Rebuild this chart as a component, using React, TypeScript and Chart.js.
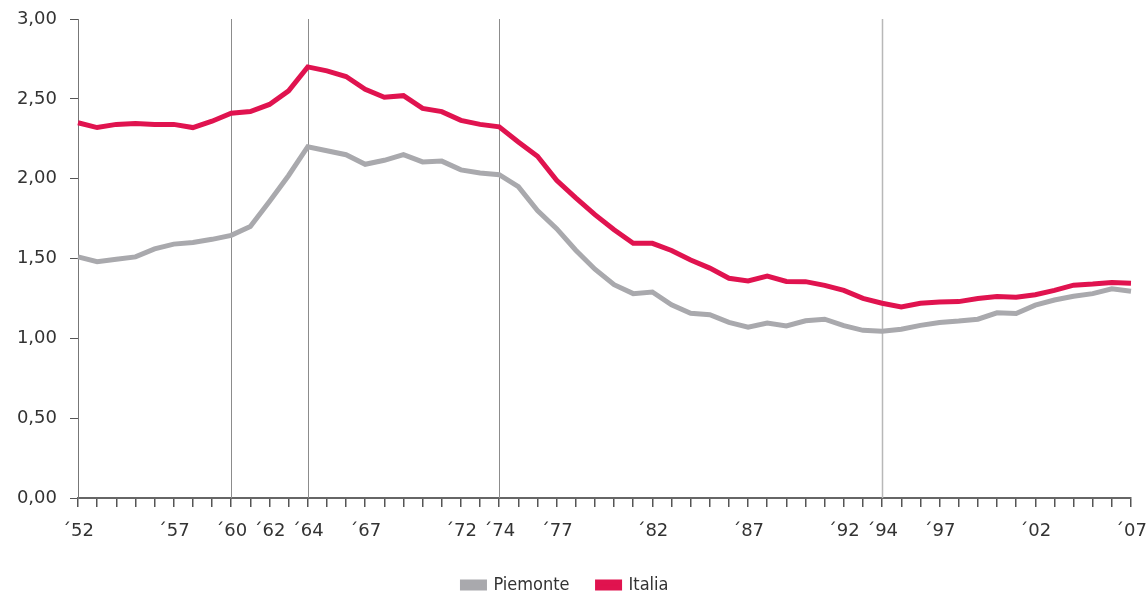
import React, { useEffect, useRef } from "react";
import { Chart, registerables } from "chart.js";

Chart.register(...registerables);

const years = [
  1952, 1953, 1954, 1955, 1956, 1957, 1958, 1959, 1960, 1961,
  1962, 1963, 1964, 1965, 1966, 1967, 1968, 1969, 1970, 1971,
  1972, 1973, 1974, 1975, 1976, 1977, 1978, 1979, 1980, 1981,
  1982, 1983, 1984, 1985, 1986, 1987, 1988, 1989, 1990, 1991,
  1992, 1993, 1994, 1995, 1996, 1997, 1998, 1999, 2000, 2001,
  2002, 2003, 2004, 2005, 2006, 2007,
];

const labeledYears = [1952, 1957, 1960, 1962, 1964, 1967, 1972, 1974, 1977, 1982, 1987, 1992, 1994, 1997, 2002, 2007];
const xTickLabels = ["´52", "´57", "´60", "´62", "´64", "´67", "´72", "´74", "´77", "´82", "´87", "´92", "´94", "´97", "´02", "´07"];

const markerYears = [1960, 1964, 1974, 1994];

const piemonte = [
  1.51, 1.48, 1.495, 1.51, 1.56, 1.59, 1.6, 1.62, 1.645, 1.7,
  1.857, 2.02, 2.2, 2.175, 2.15, 2.09, 2.115, 2.15, 2.105, 2.11,
  2.055, 2.035, 2.025, 1.95, 1.8, 1.687, 1.552, 1.433, 1.336, 1.28,
  1.29, 1.21, 1.157, 1.148, 1.1, 1.07, 1.096, 1.078, 1.11, 1.12,
  1.08, 1.05, 1.045, 1.057, 1.081, 1.099, 1.108, 1.12, 1.16, 1.155,
  1.208, 1.24, 1.263, 1.28, 1.31, 1.295,
];

const italia = [
  2.35, 2.32, 2.34, 2.345, 2.34, 2.34, 2.32, 2.36, 2.41, 2.42,
  2.465, 2.55, 2.7, 2.675, 2.64, 2.56, 2.51, 2.52, 2.44, 2.42,
  2.365, 2.34, 2.325, 2.23, 2.14, 1.99, 1.88, 1.775, 1.68, 1.595,
  1.595, 1.55, 1.49, 1.44, 1.376, 1.36, 1.39, 1.356, 1.355, 1.332,
  1.3, 1.25, 1.22, 1.197, 1.22, 1.227, 1.23, 1.25, 1.262, 1.258,
  1.273, 1.3, 1.333, 1.34, 1.35, 1.345,
];

const seriesNames = ["Piemonte", "Italia"];

const W = 1148;
const H = 604;

export default function App() {
  const ref = useRef<HTMLCanvasElement>(null);

  useEffect(() => {
    if (!ref.current) return;

    const markerPlugin = {
      id: "markerLines",
      beforeDatasetsDraw(chart: any) {
        const { ctx, chartArea, scales } = chart;
        const xs = scales.x;
        ctx.save();
        markerYears.forEach((y) => {
          const i = years.indexOf(y);
          const px = Math.round(xs.getPixelForValue(i)) + 0.5;
          ctx.strokeStyle = y === 1994 ? "#b8b8b8" : "#8c8c8c";
          ctx.lineWidth = y === 1994 ? 1.5 : 1;
          ctx.beginPath();
          ctx.moveTo(px, chartArea.top);
          ctx.lineTo(px, chartArea.bottom);
          ctx.stroke();
        });
        ctx.restore();
      },
    };

    const chart = new Chart(ref.current, {
      type: "line",
      data: {
        labels: years.map(String),
        datasets: [
          {
            label: seriesNames[0],
            data: piemonte,
            borderColor: "#a9a9ad",
            backgroundColor: "#a9a9ad",
            borderWidth: 5,
            pointRadius: 0,
            tension: 0,
            borderJoinStyle: "miter",
          },
          {
            label: seriesNames[1],
            data: italia,
            borderColor: "#e0134f",
            backgroundColor: "#e0134f",
            borderWidth: 5,
            pointRadius: 0,
            tension: 0,
            borderJoinStyle: "miter",
          },
        ],
      },
      options: {
        responsive: false,
        animation: false,
        devicePixelRatio: 1,
        layout: { padding: { left: 0, right: 17, top: 19, bottom: 0 } },
        plugins: {
          tooltip: { enabled: false },
          legend: {
            position: "bottom",
            labels: {
              boxWidth: 22,
              boxHeight: 6,
              padding: 28,
              color: "#333333",
              font: { family: "'Liberation Sans Narrow', 'DejaVu Sans Condensed', sans-serif", size: 18 },
            },
          },
        },
        scales: {
          x: {
            type: "category",
            offset: false,
            border: { display: true, color: "#666666", width: 2 },
            grid: {
              drawOnChartArea: false,
              drawTicks: true,
              tickLength: 9,
              color: "#555555",
              lineWidth: 1.5,
            },
            ticks: {
              autoSkip: false,
              maxRotation: 0,
              minRotation: 0,
              padding: 14,
              color: "#333333",
              font: { family: "'DejaVu Sans', sans-serif", size: 18 },
              callback: (_v: any, i: number) => {
                const k = labeledYears.indexOf(years[i]);
                return k >= 0 ? xTickLabels[k] : "";
              },
            },
            afterFit: (scale: any) => {
              scale.height = 50;
              scale.paddingLeft = 0;
              scale.paddingRight = 0;
            },
          },
          y: {
            min: 0,
            max: 3,
            border: { display: true, color: "#777777", width: 1 },
            grid: {
              drawOnChartArea: false,
              drawTicks: true,
              tickLength: 8,
              color: "#555555",
            },
            ticks: {
              stepSize: 0.5,
              padding: 13,
              color: "#333333",
              font: { family: "'DejaVu Sans', sans-serif", size: 18 },
              callback: (v: any) => Number(v).toFixed(2).replace(".", ","),
            },
            afterFit: (scale: any) => {
              scale.width = 78;
              scale.paddingTop = 0;
              scale.paddingBottom = 0;
            },
          },
        },
      },
      plugins: [markerPlugin],
    });

    return () => chart.destroy();
  }, []);

  return (
    <div style={{ position: "fixed", left: 0, top: 0, width: W, height: H, background: "#fff" }}>
      <canvas ref={ref} width={W} height={H} style={{ display: "block", width: W, height: H }} />
    </div>
  );
}
